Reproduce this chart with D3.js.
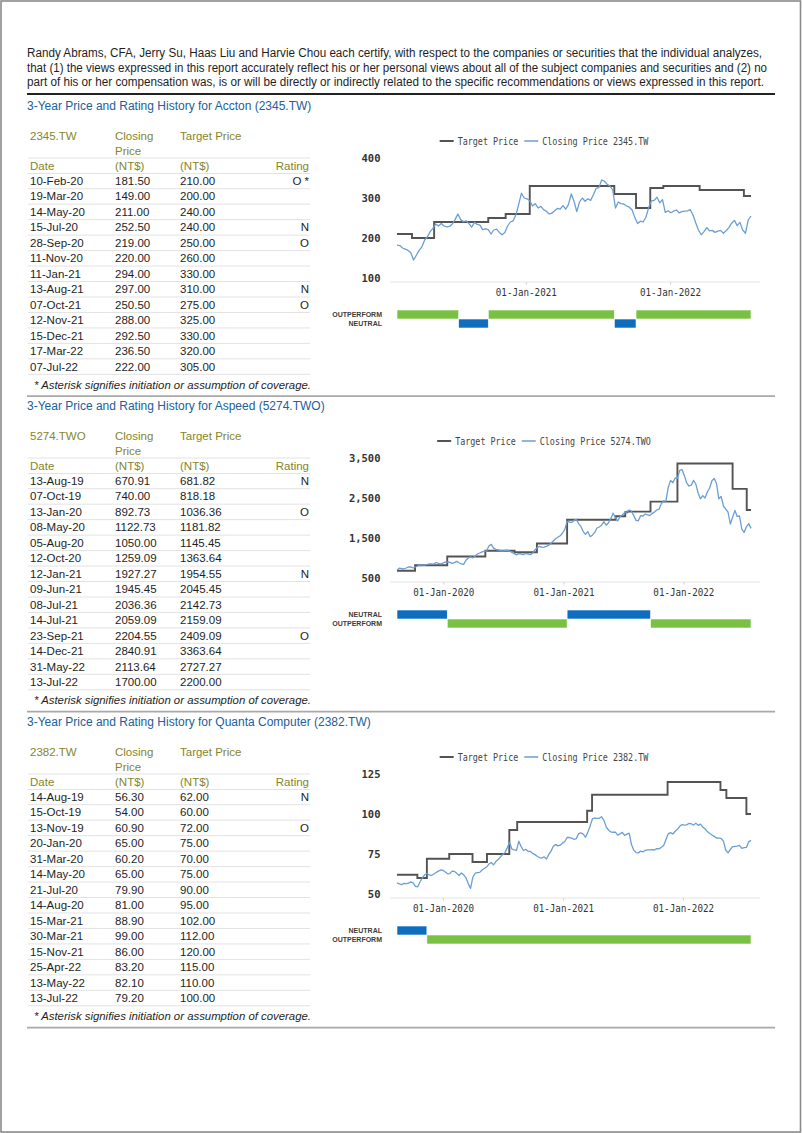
<!DOCTYPE html>
<html><head><meta charset="utf-8">
<script src="https://cdn.jsdelivr.net/npm/d3@7/dist/d3.min.js"></script>
<style>body{margin:0;background:#fff}svg{display:block}</style>
</head><body>
<svg id="page" width="802" height="1133"></svg>
<script>
// ---------------- DATA ----------------
const headerLines = [
  "Randy Abrams, CFA, Jerry Su, Haas Liu and Harvie Chou each certify, with respect to the companies or securities that the individual analyzes,",
  "that (1) the views expressed in this report accurately reflect his or her personal views about all of the subject companies and securities and (2) no",
  "part of his or her compensation was, is or will be directly or indirectly related to the specific recommendations or views expressed in this report."
];
const footnote = "* Asterisk signifies initiation or assumption of coverage.";

// Accton (2345.TW)
const acctonDates  = ["10-Feb-20","19-Mar-20","14-May-20","15-Jul-20","28-Sep-20","11-Nov-20","11-Jan-21","13-Aug-21","07-Oct-21","12-Nov-21","15-Dec-21","17-Mar-22","07-Jul-22"];
const acctonClose  = [181.5,149,211,252.5,219,220,294,297,250.5,288,292.5,236.5,222];
const acctonTarget = [210,200,240,240,250,260,330,310,275,325,330,320,305];
const acctonRating = ["O *","","","N","O","","","N","O","","","",""];
const acctonWeeklyStart = "2020-02-10";
const acctonWeekly = [182,181,175,172,169,163,145,157,169,178,195,203,216,224,235,230,236,230,228,229,
  235,246,260,246,241,243,236,227,239,234,232,221,223,221,210,220,222,214,208,214,
  230,240,243,258,284,312,300,298,293,280,286,275,279,271,267,260,262,268,274,272,
  281,272,284,310,292,266,290,300,292,298,294,308,324,326,345,342,334,330,320,275,
  290,286,285,280,277,270,251,236,242,240,252,276,293,294,302,288,296,264,268,263,
  267,270,263,266,267,268,271,258,238,220,208,216,226,218,219,214,217,219,212,218,
  226,237,244,231,239,220,212,245,255];
const acctonYTicks = [100,200,300,400];

// Aspeed (5274.TWO)
const aspeedDates  = ["13-Aug-19","07-Oct-19","13-Jan-20","08-May-20","05-Aug-20","12-Oct-20","12-Jan-21","09-Jun-21","08-Jul-21","14-Jul-21","23-Sep-21","14-Dec-21","31-May-22","13-Jul-22"];
const aspeedClose  = [670.91,740,892.73,1122.73,1050,1259.09,1927.27,1945.45,2036.36,2059.09,2204.55,2840.91,2113.64,1700];
const aspeedTarget = [681.82,818.18,1036.36,1181.82,1145.45,1363.64,1954.55,2045.45,2142.73,2159.09,2409.09,3363.64,2727.27,2200];
const aspeedRating = ["N","","O","","","","N","","","","O","","",""];
const aspeedWeeklyStart = "2019-08-13";
const aspeedWeekly = [700,745,735,725,750,775,780,750,775,800,830,820,825,835,855,852,848,888,865,852,
  870,900,905,890,866,885,915,882,855,840,945,1000,1030,1005,1050,1100,1125,1155,1167,1180,
  1300,1340,1245,1215,1200,1190,1170,1190,1195,1170,1140,1110,1080,1110,1100,1085,1115,1100,1085,1120,
  1200,1260,1290,1265,1270,1290,1320,1370,1425,1480,1520,1555,1625,1715,1915,1900,1890,1940,1970,1860,
  1790,1660,1590,1660,1535,1570,1640,1750,1775,1820,1910,1820,1880,1985,2120,2010,1925,2030,2075,2130,
  2150,2200,2170,2060,1940,1930,2060,2050,2100,2080,2060,2110,2150,2200,2220,2360,2430,2420,2770,2940,
  2880,3000,2990,3190,3210,3060,2880,2800,2820,2940,2850,2620,2480,2560,2500,2650,2750,2930,2990,2860,
  2480,2540,2300,2220,2150,1850,2020,2190,2040,2050,1720,1640,1780,1860,1740];
const aspeedYTicks = [500,1500,2500,3500];

// Quanta Computer (2382.TW)
const quantaDates  = ["14-Aug-19","15-Oct-19","13-Nov-19","20-Jan-20","31-Mar-20","14-May-20","21-Jul-20","14-Aug-20","15-Mar-21","30-Mar-21","15-Nov-21","25-Apr-22","13-May-22","13-Jul-22"];
const quantaClose  = [56.3,54,60.9,65,60.2,65,79.9,81,88.9,99,86,83.2,82.1,79.2];
const quantaTarget = [62,60,72,75,70,75,90,95,102,112,120,115,110,100];
const quantaRating = ["N","","O","","","","","","","","","","",""];
const quantaWeeklyStart = "2019-08-14";
const quantaWeekly = [56.9,56.3,55.8,56.6,56.5,56.8,57.6,57.0,54.8,54.5,57.5,60.0,62.0,62.8,61.9,61.6,62.5,63.4,64.3,65.0,
  64.8,63.8,62.6,62.8,64.3,64.1,62.9,61.6,63.1,62.0,60.2,56.5,53.5,60.5,63.0,63.3,63.5,65.0,65.9,66.9,
  68.7,69.7,68.2,70.3,71.5,73.2,74.6,76.0,79.0,82.2,78.0,77.6,77.3,83.0,79.6,77.2,77.9,76.7,76.6,75.4,
  74.6,73.6,72.8,72.5,73.2,71.9,74.6,76.8,79.8,81.0,80.1,80.5,81.8,82.8,85.3,85.3,84.9,84.2,84.6,87.6,
  88.3,87.4,85.5,88.5,92.4,96.9,97.5,97.3,97.3,98.3,96.0,92.0,90.0,88.8,88.6,88.7,86.8,87.6,88.5,86.6,
  87.4,88.0,80.9,77.4,75.9,75.7,76.8,76.3,77.3,77.6,77.6,77.8,77.5,78.4,78.2,79.2,80.3,84.0,87.6,88.4,
  87.5,89.2,90.4,92.3,93.4,93.1,93.2,94.1,93.9,93.0,94.3,92.9,93.7,91.8,90.8,89.0,87.8,86.9,86.0,85.0,
  84.9,84.7,83.0,77.5,75.7,77.8,79.6,79.7,79.9,80.4,78.5,79.0,79.1,82.6,83.5];
const quantaYTicks = [50,75,100,125];

const ratingNames = {O:"OUTPERFORM", N:"NEUTRAL"};

// ---------------- CONFIG (built from arrays) ----------------
const sections = [
  {title:"3-Year Price and Rating History for Accton (2345.TW)", ticker:"2345.TW", hy:136,
   dates:acctonDates, close:acctonClose, target:acctonTarget, rating:acctonRating,
   wStart:acctonWeeklyStart, weekly:acctonWeekly, yTicks:acctonYTicks, yLo:90},
  {title:"3-Year Price and Rating History for Aspeed (5274.TWO)", ticker:"5274.TWO", hy:436,
   dates:aspeedDates, close:aspeedClose, target:aspeedTarget, rating:aspeedRating,
   wStart:aspeedWeeklyStart, weekly:aspeedWeekly, yTicks:aspeedYTicks, yLo:400},
  {title:"3-Year Price and Rating History for Quanta Computer (2382.TW)", ticker:"2382.TW", hy:752,
   dates:quantaDates, close:quantaClose, target:quantaTarget, rating:quantaRating,
   wStart:quantaWeeklyStart, weekly:quantaWeekly, yTicks:quantaYTicks, yLo:47.5}
];

const svg = d3.select("#page");
const SANS = "'Liberation Sans', Arial, Helvetica, sans-serif";
const MONO = "'DejaVu Sans Mono', 'Liberation Mono', monospace";
const OLIVE = "#85852a", TITLE = "#22609a", TXT = "#1e1e1e";
const GREEN = "#79c143", BLUE = "#0f6dbf";
const parseT = d3.timeParse("%d-%b-%y");
const parseISO = d3.timeParse("%Y-%m-%d");
const f2 = d3.format(".2f");

// page border
svg.append("rect").attr("x",1).attr("y",1).attr("width",799.5).attr("height",1131)
  .attr("fill","none").attr("stroke","#8a8a8a").attr("stroke-width",1.6);

// header paragraph
const lineLens = [735, 740, 737];
svg.selectAll("text.hdr").data(headerLines).join("text").attr("class","hdr")
  .attr("x",27).attr("y",(d,i)=>53 + i*14.6).attr("dy","0.35em")
  .attr("font-family",SANS).attr("font-size",12).attr("fill",TXT)
  .attr("textLength",(d,i)=>lineLens[i]).attr("lengthAdjust","spacingAndGlyphs")
  .text(d=>d);
svg.append("line").attr("x1",27).attr("x2",775).attr("y1",94).attr("y2",94)
  .attr("stroke","#222").attr("stroke-width",1.8);

sections.forEach(sec => {
  const hy = sec.hy;
  const g = svg.append("g");
  // title
  g.append("text").attr("x",27).attr("y",hy-30).attr("dy","0.35em")
    .attr("font-family",SANS).attr("font-size",12).attr("fill",TITLE).text(sec.title);

  // ---- table ----
  const tx = {date:30, close:115, target:180, ratingR:309};
  const hdr = (x,y,t,anchor) => g.append("text").attr("x",x).attr("y",y).attr("dy","0.35em")
    .attr("font-family",SANS).attr("font-size",11.5).attr("fill",OLIVE)
    .attr("text-anchor",anchor||"start").text(t);
  hdr(tx.date,hy,sec.ticker); hdr(tx.close,hy,"Closing"); hdr(tx.target,hy,"Target Price");
  hdr(tx.close,hy+14.5,"Price");
  hdr(tx.date,hy+30,"Date"); hdr(tx.close,hy+30,"(NT$)"); hdr(tx.target,hy+30,"(NT$)");
  hdr(tx.ratingR,hy+30,"Rating","end");
  const rule = y => g.append("line").attr("x1",28).attr("x2",310).attr("y1",y).attr("y2",y)
    .attr("stroke","#e2e2e2").attr("stroke-width",1);
  rule(hy+22); rule(hy+37.6);
  const rowY = k => hy + 45 + 15.47*k;
  sec.dates.forEach((d,k) => {
    const y = rowY(k);
    const t = (x,s,anchor) => g.append("text").attr("x",x).attr("y",y).attr("dy","0.35em")
      .attr("font-family",SANS).attr("font-size",11.5).attr("fill",TXT)
      .attr("text-anchor",anchor||"start").text(s);
    t(tx.date,d); t(tx.close,f2(sec.close[k])); t(tx.target,f2(sec.target[k]));
    if (sec.rating[k]) t(tx.ratingR,sec.rating[k],"end");
    rule(y+7.7);
  });
  const fy = rowY(sec.dates.length-1) + 18.5;
  g.append("text").attr("x",34).attr("y",fy).attr("dy","0.35em")
    .attr("font-family",SANS).attr("font-size",11).attr("font-style","italic").attr("fill",TXT)
    .attr("textLength",277).attr("lengthAdjust","spacingAndGlyphs").text(footnote);
  g.append("line").attr("x1",27).attr("x2",775).attr("y1",fy+11).attr("y2",fy+11)
    .attr("stroke","#a9a9a9").attr("stroke-width",1.8);

  // ---- chart ----
  const start = parseISO(sec.wStart);
  const series = sec.weekly.map((v,i)=>({date:d3.timeDay.offset(start,7*i), v}));
  const end = series[series.length-1].date;
  const x = d3.scaleTime().domain([start,end]).range([397,751]);
  const y = d3.scaleLinear().domain([sec.yLo, d3.max(sec.yTicks)]).range([hy+146, hy+22]);

  // baseline
  g.append("line").attr("x1",390).attr("x2",760).attr("y1",hy+146).attr("y2",hy+146)
    .attr("stroke","#e4e4e4").attr("stroke-width",1);

  // x axis
  const years = d3.timeYear.range(d3.timeYear.ceil(start), end);
  const xa = g.append("g").attr("transform",`translate(0,${hy+146})`)
    .call(d3.axisBottom(x).tickValues(years).tickFormat(d3.timeFormat("%d-%b-%Y"))
      .tickSize(2.5).tickPadding(4.5));
  xa.select(".domain").remove();
  xa.selectAll("line").attr("stroke","#cfcfcf");
  xa.selectAll("text").attr("font-family",MONO).attr("font-size",10).attr("fill","#333")
    .attr("textLength",61).attr("lengthAdjust","spacingAndGlyphs");

  // y axis
  const ya = g.append("g").attr("transform","translate(384,0)")
    .call(d3.axisLeft(y).tickValues(sec.yTicks).tickFormat(d3.format(",")).tickSize(0).tickPadding(3.5));
  ya.select(".domain").remove();
  ya.selectAll("text").attr("font-family",MONO).attr("font-size",10.5).attr("font-weight","bold")
    .attr("fill","#333");

  // target price step line
  const tpts = sec.dates.map((d,i)=>({date:parseT(d), v:sec.target[i]}));
  tpts.push({date:end, v:sec.target[sec.target.length-1]});
  g.append("path").datum(tpts)
    .attr("d", d3.line().x(d=>x(d.date)).y(d=>y(d.v)).curve(d3.curveStepAfter))
    .attr("fill","none").attr("stroke","#535353").attr("stroke-width",1.9);

  // closing price line
  g.append("path").datum(series)
    .attr("d", d3.line().x(d=>x(d.date)).y(d=>y(d.v)))
    .attr("fill","none").attr("stroke","#6b9ed3").attr("stroke-width",1.3)
    .attr("stroke-linejoin","round");

  // legend
  const lw = 5.05;
  const items = [{label:"Target Price", color:"#535353"},
                 {label:"Closing Price " + sec.ticker, color:"#6b9ed3"}];
  const widths = items.map(d=>14+4+d.label.length*lw);
  const total = widths[0] + 6 + widths[1];
  let lx = 544 - total/2;
  const ly = hy + 5;
  items.forEach((it,i)=>{
    g.append("line").attr("x1",lx).attr("x2",lx+14).attr("y1",ly).attr("y2",ly)
      .attr("stroke",it.color).attr("stroke-width",i===0?2:1.5);
    g.append("text").attr("x",lx+18).attr("y",ly).attr("dy","0.35em")
      .attr("font-family",MONO).attr("font-size",10.5).attr("fill","#444")
      .attr("textLength",it.label.length*lw).attr("lengthAdjust","spacingAndGlyphs").text(it.label);
    lx += widths[i] + 6;
  });

  // rating bars
  const segs = [];
  sec.dates.forEach((d,i)=>{
    const r = sec.rating[i].replace("*","").trim();
    if (r) segs.push({r, from:parseT(d)});
  });
  segs.forEach((s,i)=>{ s.to = i < segs.length-1 ? segs[i+1].from : end; });
  const order = [];
  segs.forEach(s=>{ if(!order.includes(s.r)) order.push(s.r); });
  ["O","N"].forEach(r=>{ if(!order.includes(r)) order.push(r); });
  const rowTop = r => hy + 174 + 9*order.indexOf(r);
  g.selectAll("rect.rb").data(segs).join("rect").attr("class","rb")
    .attr("x",d=>x(d.from)).attr("width",d=>x(d.to)-x(d.from))
    .attr("y",d=>rowTop(d.r)).attr("height",9)
    .attr("fill",d=>d.r==="O"?GREEN:BLUE).attr("stroke","#fff").attr("stroke-width",0.6);
  order.forEach(r=>{
    g.append("text").attr("x",382).attr("y",rowTop(r)+4.5).attr("dy","0.35em")
      .attr("text-anchor","end").attr("font-family",SANS).attr("font-size",7)
      .attr("font-weight","bold").attr("fill","#3c3c3c").text(ratingNames[r]);
  });
});
</script>
</body></html>
